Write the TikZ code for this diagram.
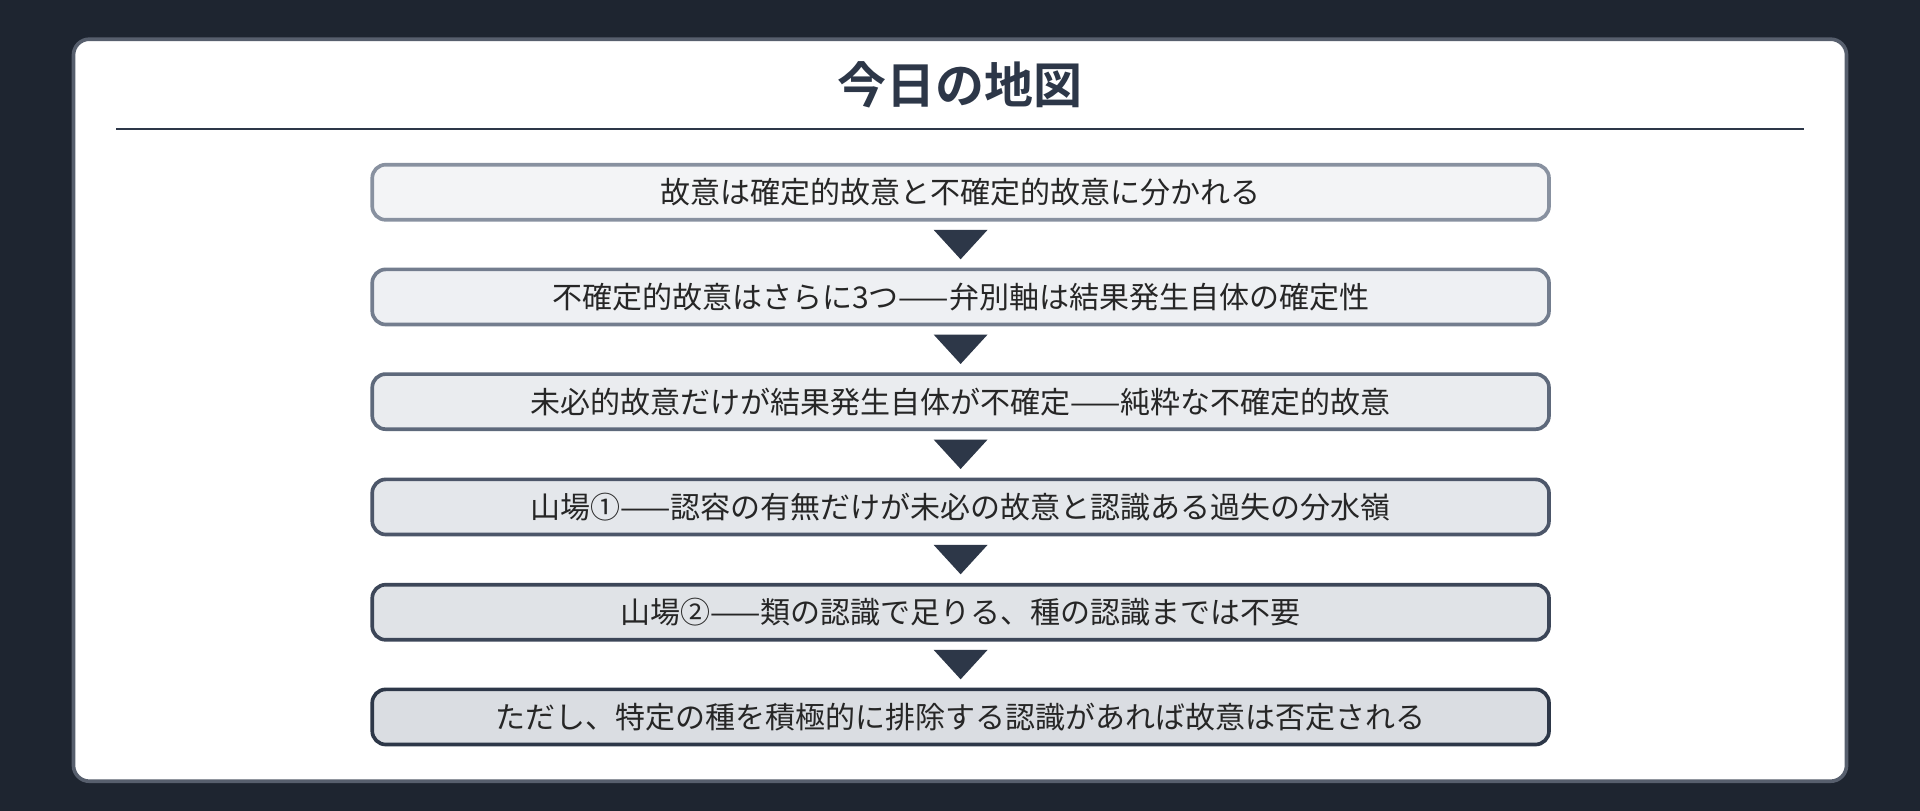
\documentclass[tikz,border=0pt]{standalone}
\usepackage{fontspec}
\setmainfont{Noto Sans CJK JP}
\newfontfamily\cjkb{Noto Sans CJK JP}[BoldFont={* Bold}]
\begin{document}
\begin{tikzpicture}[x=1pt,y=-1pt,
  stepbox/.style={rounded corners=11pt,line width=3pt,minimum width=961pt,minimum height=45pt,inner sep=0pt,font=\fontsize{24.5}{27}\selectfont,text=black!85}]
\definecolor{bg}{HTML}{1E2530}
\definecolor{ink}{HTML}{2D3748}
\fill[bg] (0,0) rectangle (1568,662);
\useasboundingbox (0,0) rectangle (1568,662);
\draw[fill=white,draw=ink!80,line width=3pt,rounded corners=13pt] (60,32) rectangle (1508,638);
\node[font=\cjkb\bfseries\fontsize{40}{44}\selectfont,text=ink] (title) at (784,69) {今日の地図};
\draw[ink,line width=1.6pt] (95,105) -- (1473,105);
\definecolor{b1}{HTML}{8891A0}\definecolor{f1}{HTML}{F3F4F6}
\definecolor{b2}{HTML}{737D8E}\definecolor{f2}{HTML}{EEF0F3}
\definecolor{b3}{HTML}{5E697B}\definecolor{f3}{HTML}{EAECEF}
\definecolor{b4}{HTML}{4C5669}\definecolor{f4}{HTML}{E4E7EB}
\definecolor{b5}{HTML}{3C4658}\definecolor{f5}{HTML}{E0E3E7}
\definecolor{b6}{HTML}{2D3748}\definecolor{f6}{HTML}{DADDE2}
\node[stepbox,draw=b1,fill=f1] (s1) at (784.5,157) {故意は確定的故意と不確定的故意に分かれる};
\node[stepbox,draw=b2,fill=f2] (s2) at (784.5,242.5) {不確定的故意はさらに3つ——弁別軸は結果発生自体の確定性};
\node[stepbox,draw=b3,fill=f3] (s3) at (784.5,328) {未必的故意だけが結果発生自体が不確定——純粋な不確定的故意};
\node[stepbox,draw=b4,fill=f4] (s4) at (784.5,414) {山場①——認容の有無だけが未必の故意と認識ある過失の分水嶺};
\node[stepbox,draw=b5,fill=f5] (s5) at (784.5,500) {山場②——類の認識で足りる、種の認識までは不要};
\node[stepbox,draw=b6,fill=f6] (s6) at (784.5,585.5) {ただし、特定の種を積極的に排除する認識があれば故意は否定される};
\foreach \a/\b in {s1/s2,s2/s3,s3/s4,s4/s5,s5/s6}{
  \path (\a.south) -- (\b.north) coordinate[pos=0.5] (m);
  \fill[ink] ([xshift=-22pt,yshift=12pt]m) -- ([xshift=22pt,yshift=12pt]m) -- ([yshift=-12pt]m) -- cycle;
}
\end{tikzpicture}
\end{document}
